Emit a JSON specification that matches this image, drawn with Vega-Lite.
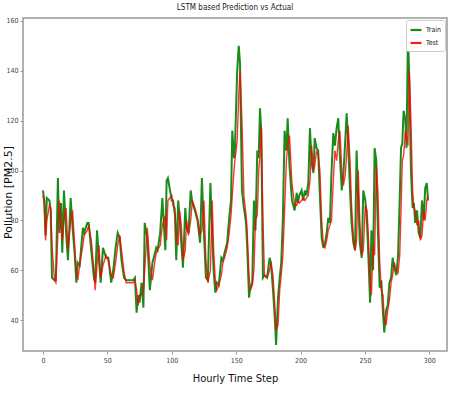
{
 "$schema": "https://vega.github.io/schema/vega-lite/v6.json",
 "width": 424,
 "height": 333,
 "autosize": {"type": "none"},
 "padding": {"left": 23, "top": 18, "right": 5, "bottom": 43},
 "background": "white",
 "title": {"text": "LSTM based Prediction vs Actual", "fontSize": 8, "font": "DejaVu Sans Condensed, Liberation Sans Narrow, sans-serif", "fontWeight": "normal", "color": "#222", "offset": 5},
 "data": {"values": [
  {"t":0,"Train":92,"Test":90},{"t":1,"Train":88,"Test":87},{"t":2,"Train":74,"Test":72},{"t":3,"Train":89,"Test":80},{"t":5,"Train":88,"Test":86},{"t":6,"Train":84,"Test":85},{"t":7,"Train":57,"Test":70},{"t":9,"Train":56,"Test":56},{"t":10,"Train":56,"Test":55},{"t":11.6,"Train":97,"Test":75},{"t":12.7,"Train":75,"Test":88},{"t":14,"Train":87,"Test":78},{"t":15,"Train":67,"Test":72},{"t":16.3,"Train":92,"Test":80},{"t":18,"Train":75,"Test":85},{"t":19.4,"Train":64,"Test":68},{"t":21.5,"Train":89,"Test":80},{"t":23,"Train":77,"Test":84},{"t":24.6,"Train":67,"Test":70},{"t":25.9,"Train":55,"Test":60},{"t":27,"Train":63,"Test":56},{"t":28.5,"Train":62,"Test":62},{"t":31,"Train":77,"Test":70},{"t":32,"Train":75,"Test":74},{"t":34.4,"Train":79,"Test":76},{"t":35.5,"Train":79,"Test":78},{"t":37.5,"Train":68,"Test":72},{"t":39.6,"Train":57,"Test":60},{"t":40.5,"Train":55,"Test":52},{"t":42,"Train":76,"Test":62},{"t":43.5,"Train":64,"Test":70},{"t":44.8,"Train":55,"Test":57},{"t":46.6,"Train":69,"Test":62},{"t":49,"Train":65,"Test":66},{"t":50.7,"Train":65,"Test":64},{"t":53,"Train":55,"Test":58},{"t":54.6,"Train":60,"Test":57},{"t":56.4,"Train":69,"Test":63},{"t":58,"Train":75,"Test":70},{"t":59.6,"Train":73,"Test":74},{"t":61,"Train":64,"Test":68},{"t":63,"Train":57,"Test":59},{"t":64.6,"Train":56,"Test":55},{"t":67.5,"Train":56,"Test":55},{"t":70,"Train":56,"Test":55},{"t":71.4,"Train":57,"Test":56},{"t":72.7,"Train":43,"Test":52},{"t":74,"Train":50,"Test":46},{"t":75,"Train":47,"Test":50},{"t":76.6,"Train":55,"Test":50},{"t":78,"Train":45,"Test":52},{"t":79,"Train":79,"Test":60},{"t":81,"Train":73,"Test":77},{"t":83,"Train":52,"Test":62},{"t":85,"Train":63,"Test":56},{"t":87,"Train":67,"Test":64},{"t":88,"Train":69,"Test":67},{"t":89,"Train":68,"Test":68},{"t":91,"Train":75,"Test":70},{"t":92.7,"Train":89,"Test":78},{"t":95,"Train":68,"Test":82},{"t":96,"Train":96,"Test":72},{"t":97,"Train":97,"Test":88},{"t":100,"Train":88,"Test":90},{"t":101,"Train":88,"Test":86},{"t":102.5,"Train":82,"Test":85},{"t":103.5,"Train":64,"Test":72},{"t":105,"Train":88,"Test":70},{"t":106,"Train":82,"Test":84},{"t":107.4,"Train":71,"Test":78},{"t":108.7,"Train":61,"Test":64},{"t":110.5,"Train":85,"Test":68},{"t":111.5,"Train":77,"Test":80},{"t":113,"Train":75,"Test":74},{"t":114.7,"Train":92,"Test":80},{"t":116,"Train":87,"Test":88},{"t":118,"Train":84,"Test":85},{"t":120,"Train":80,"Test":81},{"t":122,"Train":71,"Test":74},{"t":123.4,"Train":97,"Test":76},{"t":125,"Train":75,"Test":88},{"t":126.5,"Train":57,"Test":64},{"t":128,"Train":56,"Test":55},{"t":130,"Train":95,"Test":60},{"t":131.4,"Train":75,"Test":88},{"t":132.5,"Train":60,"Test":68},{"t":133.8,"Train":51,"Test":56},{"t":135,"Train":55,"Test":52},{"t":136.5,"Train":54,"Test":54},{"t":138.5,"Train":65,"Test":58},{"t":139.7,"Train":64,"Test":63},{"t":141,"Train":67,"Test":65},{"t":143,"Train":71,"Test":69},{"t":144.6,"Train":81,"Test":75},{"t":146,"Train":88,"Test":82},{"t":147,"Train":116,"Test":90},{"t":148.3,"Train":105,"Test":100},{"t":149,"Train":108,"Test":104},{"t":150.8,"Train":140,"Test":112},{"t":152,"Train":150,"Test":130},{"t":153,"Train":143,"Test":140},{"t":154.5,"Train":92,"Test":120},{"t":156,"Train":85,"Test":90},{"t":157.7,"Train":79,"Test":82},{"t":158.6,"Train":69,"Test":75},{"t":160,"Train":49,"Test":58},{"t":161,"Train":53,"Test":52},{"t":162.5,"Train":55,"Test":54},{"t":163.8,"Train":88,"Test":60},{"t":165,"Train":76,"Test":80},{"t":166.4,"Train":108,"Test":82},{"t":167.5,"Train":105,"Test":100},{"t":168.5,"Train":125,"Test":106},{"t":169.5,"Train":116,"Test":118},{"t":170.8,"Train":57,"Test":80},{"t":172,"Train":58,"Test":58},{"t":174,"Train":57,"Test":57},{"t":176,"Train":65,"Test":60},{"t":177,"Train":63,"Test":63},{"t":178.6,"Train":52,"Test":58},{"t":180,"Train":41,"Test":46},{"t":181,"Train":30,"Test":36},{"t":182.5,"Train":49,"Test":38},{"t":183.8,"Train":57,"Test":52},{"t":185,"Train":63,"Test":58},{"t":186.3,"Train":81,"Test":66},{"t":187.6,"Train":116,"Test":84},{"t":189,"Train":108,"Test":104},{"t":190,"Train":121,"Test":110},{"t":191.4,"Train":102,"Test":114},{"t":193.3,"Train":88,"Test":95},{"t":195.4,"Train":84,"Test":86},{"t":197,"Train":91,"Test":86},{"t":198,"Train":87,"Test":88},{"t":199,"Train":90,"Test":87},{"t":200.8,"Train":92,"Test":88},{"t":202,"Train":88,"Test":89},{"t":203.4,"Train":92,"Test":88},{"t":204.6,"Train":90,"Test":89},{"t":206,"Train":95,"Test":90},{"t":207.3,"Train":117,"Test":96},{"t":208.6,"Train":103,"Test":110},{"t":210,"Train":99,"Test":100},{"t":211,"Train":113,"Test":102},{"t":212.4,"Train":109,"Test":108},{"t":213.7,"Train":108,"Test":106},{"t":215,"Train":90,"Test":100},{"t":216.4,"Train":73,"Test":80},{"t":217.7,"Train":69,"Test":70},{"t":219,"Train":71,"Test":69},{"t":220.3,"Train":75,"Test":72},{"t":221.5,"Train":81,"Test":76},{"t":222.8,"Train":79,"Test":78},{"t":224,"Train":99,"Test":80},{"t":225.4,"Train":115,"Test":96},{"t":226.7,"Train":110,"Test":108},{"t":228,"Train":117,"Test":104},{"t":229.3,"Train":121,"Test":112},{"t":230.6,"Train":105,"Test":116},{"t":232,"Train":92,"Test":100},{"t":233.3,"Train":99,"Test":94},{"t":234.6,"Train":111,"Test":98},{"t":235.8,"Train":123,"Test":106},{"t":237,"Train":111,"Test":118},{"t":238.4,"Train":92,"Test":104},{"t":239.6,"Train":79,"Test":86},{"t":241,"Train":71,"Test":74},{"t":242.3,"Train":68,"Test":68},{"t":243.5,"Train":108,"Test":72},{"t":244.8,"Train":88,"Test":100},{"t":246,"Train":71,"Test":80},{"t":247.5,"Train":65,"Test":66},{"t":248.7,"Train":92,"Test":68},{"t":250.3,"Train":88,"Test":86},{"t":251.6,"Train":79,"Test":84},{"t":253,"Train":61,"Test":70},{"t":254,"Train":47,"Test":55},{"t":255,"Train":76,"Test":50},{"t":256.3,"Train":60,"Test":70},{"t":257.5,"Train":109,"Test":66},{"t":258.8,"Train":104,"Test":102},{"t":260,"Train":77,"Test":92},{"t":261.4,"Train":53,"Test":64},{"t":262.7,"Train":56,"Test":52},{"t":264,"Train":43,"Test":50},{"t":265,"Train":35,"Test":40},{"t":266.4,"Train":44,"Test":38},{"t":267.7,"Train":46,"Test":44},{"t":269,"Train":55,"Test":48},{"t":270.3,"Train":57,"Test":55},{"t":271.5,"Train":65,"Test":58},{"t":272.8,"Train":61,"Test":63},{"t":274.4,"Train":58,"Test":60},{"t":275.7,"Train":66,"Test":59},{"t":277,"Train":89,"Test":66},{"t":278,"Train":109,"Test":84},{"t":279,"Train":111,"Test":104},{"t":280,"Train":124,"Test":106},{"t":281.4,"Train":120,"Test":116},{"t":282.2,"Train":109,"Test":114},{"t":283.4,"Train":155,"Test":110},{"t":284.4,"Train":137,"Test":140},{"t":285.7,"Train":100,"Test":120},{"t":287,"Train":85,"Test":92},{"t":288,"Train":87,"Test":85},{"t":289,"Train":79,"Test":84},{"t":290.4,"Train":84,"Test":78},{"t":291.7,"Train":75,"Test":80},{"t":293,"Train":73,"Test":72},{"t":294.3,"Train":88,"Test":74},{"t":295.6,"Train":80,"Test":84},{"t":296.8,"Train":93,"Test":80},{"t":298,"Train":95,"Test":88},{"t":299,"Train":88,"Test":90}
 ]},
 "transform": [{"fold": ["Train", "Test"], "as": ["series", "value"]}],
 "encoding": {
  "x": {"field": "t", "type": "quantitative", "scale": {"domain": [-15.5, 313.7], "nice": false, "zero": false},
        "axis": {"values": [0, 50, 100, 150, 200, 250, 300], "title": "Hourly Time Step", "titleFont": "DejaVu Sans Condensed, Liberation Sans Narrow, sans-serif", "titleFontSize": 11, "titleFontWeight": "normal", "titleColor": "#111", "titlePadding": 9}},
  "y": {"field": "value", "type": "quantitative", "scale": {"domain": [27.6, 161.2], "nice": false, "zero": false},
        "axis": {"values": [40, 60, 80, 100, 120, 140, 160], "title": "Pollution [PM2.5]", "titleFont": "DejaVu Sans", "titleFontSize": 11, "titleFontWeight": "normal", "titleColor": "#111", "titleX": -15, "titleY": 174, "titleAngle": -90, "titleAlign": "center", "titleBaseline": "middle"}}
 },
 "layer": [
  {"transform": [{"filter": "datum.series === 'Train'"}],
   "mark": {"type": "line", "strokeWidth": 2, "opacity": 0.9},
   "encoding": {"color": {"field": "series", "type": "nominal", "scale": {"domain": ["Train", "Test"], "range": ["#008000", "#ff0000"]},
     "legend": {"title": null, "orient": "top-right", "offset": 2, "strokeColor": "#ccc", "fillColor": "white", "padding": 3, "cornerRadius": 2, "labelFont": "DejaVu Sans Condensed, Liberation Sans Narrow, sans-serif", "labelFontSize": 7, "labelColor": "#222", "symbolType": "stroke", "symbolSize": 120, "symbolStrokeWidth": 2.2, "rowPadding": 1, "labelOffset": 3}}}},
  {"transform": [{"filter": "datum.series === 'Test'"}],
   "mark": {"type": "line", "strokeWidth": 1.4, "opacity": 0.8},
   "encoding": {"color": {"field": "series", "type": "nominal"}}}
 ],
 "config": {
  "view": {"stroke": "#999", "strokeWidth": 1.5},
  "axis": {"grid": false, "domain": false, "tickColor": "#999", "tickSize": 3, "labelFont": "DejaVu Sans Condensed, Liberation Sans Narrow, sans-serif", "labelFontSize": 7, "labelColor": "#444"}
 }
}
